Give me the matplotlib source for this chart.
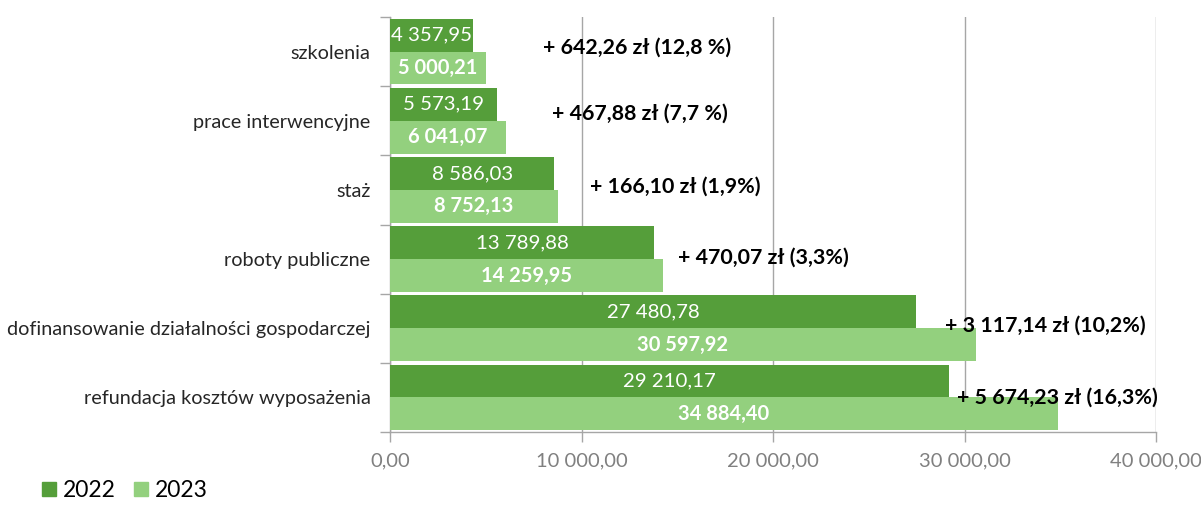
import matplotlib
matplotlib.use('Agg')
import matplotlib.pyplot as plt
from matplotlib.patches import Patch
from matplotlib.ticker import FuncFormatter, FixedLocator
import numpy as np

plt.rcParams['font.family'] = ['Lato', 'DejaVu Sans']

categories = ['szkolenia', 'prace interwencyjne', 'staż', 'roboty publiczne',
              'dofinansowanie działalności gospodarczej',
              'refundacja kosztów wyposażenia']
val_2022 = [4357.95, 5573.19, 8586.03, 13789.88, 27480.78, 29210.17]
val_2023 = [5000.21, 6041.07, 8752.13, 14259.95, 30597.92, 34884.40]
diff_labels = ['+ 642,26 zł (12,8 %)', '+ 467,88 zł (7,7 %)', '+ 166,10 zł (1,9%)',
               '+ 470,07 zł (3,3%)', '+ 3 117,14 zł (10,2%)', '+ 5 674,23 zł (16,3%)']
# where each difference label starts (x in data units) and its vertical nudge
label_x = [7990, 8460, 10440, 15040, 28980, 29610]
label_dy = [-0.06, -0.1, -0.04, -0.02, -0.04, 0.0]

C22 = '#559e3a'
C23 = '#93d07e'
GRID = '#a6a6a6'


def pl_num(v):
    s = f'{v:,.2f}'
    return s.replace(',', ' ').replace('.', ',')


fig = plt.figure(figsize=(12.01, 5.09), dpi=100)
ax = fig.add_axes([390 / 1201, 1 - 432 / 509, 766 / 1201, 415 / 509])

y = np.arange(len(categories))
h = 0.475
ax.barh(y - h / 2, val_2022, height=h, color=C22, zorder=3)
ax.barh(y + h / 2, val_2023, height=h, color=C23, zorder=3)

for yi, v in zip(y, val_2022):
    ax.text(v / 2, yi - h / 2, pl_num(v), ha='center', va='center',
            color='white', fontsize=14.7, zorder=4)
for yi, v in zip(y, val_2023):
    ax.text(v / 2, yi + h / 2, pl_num(v), ha='center', va='center',
            color='white', fontsize=14.5, fontweight='bold', zorder=4)
for yi, lx, dy, t in zip(y, label_x, label_dy, diff_labels):
    ax.text(lx, yi + dy, t, ha='left', va='center', color='black',
            fontsize=15.4, fontweight='bold', zorder=5)

ax.set_xlim(0, 40000)
ax.set_ylim(len(categories) - 0.5, -0.5)
ax.xaxis.set_major_locator(FixedLocator([0, 10000, 20000, 30000, 40000]))
ax.xaxis.set_major_formatter(FuncFormatter(lambda v, p: pl_num(v)))
ax.grid(axis='x', color=GRID, linewidth=1, zorder=0)

ax.set_yticks(y)
ax.set_yticklabels(categories)
ax.set_yticks(np.arange(len(categories) + 1) - 0.5, minor=True)
ax.tick_params(axis='y', which='major', length=0, pad=14, labelsize=14.3,
               labelcolor='#262626')
ax.tick_params(axis='y', which='minor', length=7, color=GRID, width=1)
ax.tick_params(axis='x', length=7, color=GRID, width=1, labelsize=14.5,
               labelcolor='#808080', pad=8)

for s in ['top', 'right']:
    ax.spines[s].set_visible(False)
for s in ['left', 'bottom']:
    ax.spines[s].set_color(GRID)
    ax.spines[s].set_linewidth(1)

handles = [Patch(color=C22, label='2022'), Patch(color=C23, label='2023')]
fig.legend(handles=handles, loc='lower left', bbox_to_anchor=(0.018, -0.025),
           ncol=2, frameon=False, fontsize=16.5, handlelength=0.6,
           handleheight=0.6, handletextpad=0.3, columnspacing=0.8)

fig.savefig('out.png', dpi=100)
